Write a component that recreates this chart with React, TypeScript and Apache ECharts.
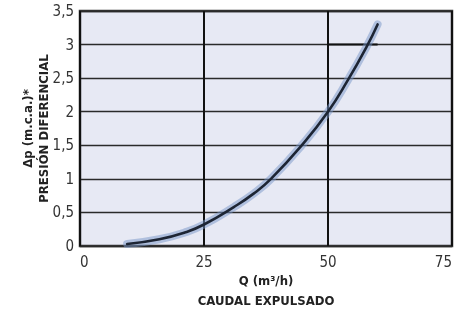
import React, { useEffect, useRef } from "react";
import * as echarts from "echarts";

const flowValues = [9.5, 16, 21.5, 25, 31, 35, 38.5, 44.7, 50, 54, 57.8, 60];
const pressureValues = [0.03, 0.1, 0.21, 0.32, 0.58, 0.78, 1.0, 1.5, 2.0, 2.47, 2.97, 3.3];
const markerFlow = [50, 60];
const markerPressure = [3, 3];
const xTicks = [0, 25, 50, 75];
const yTicks = [0, 0.5, 1, 1.5, 2, 2.5, 3, 3.5];
const xTitle = "Q (m³/h)\nCAUDAL EXPULSADO";
const yTitle = "Δp (m.c.a.)*\nPRESIÓN DIFERENCIAL";

const FONT = "'DejaVu Sans Condensed', 'Liberation Sans Narrow', sans-serif";

export default function App() {
  const ref = useRef<HTMLDivElement>(null);
  useEffect(() => {
    if (!ref.current) return;
    const chart = echarts.init(ref.current, undefined, { renderer: "svg" });
    const curve = flowValues.map((x, i) => [x, pressureValues[i]]);
    const marker = markerFlow.map((x, i) => [x, markerPressure[i]]);
    chart.setOption({
      animation: false,
      grid: {
        left: 80,
        right: 2,
        top: 11,
        bottom: 69,
        show: true,
        backgroundColor: "#e7e9f4",
        borderColor: "#333",
        borderWidth: 2.5,
      },
      xAxis: {
        type: "value",
        min: xTicks[0],
        max: xTicks[xTicks.length - 1],
        interval: 25,
        name: xTitle,
        nameLocation: "middle",
        nameGap: 24,
        nameMoveOverlap: false,
        nameTextStyle: { fontFamily: FONT, fontWeight: "bold", fontSize: 13, color: "#222", lineHeight: 20 },
        axisLine: { show: false },
        axisTick: { show: false },
        axisLabel: { fontFamily: FONT, fontSize: 15, color: "#333", margin: 8, alignMinLabel: "left", alignMaxLabel: "right" },
        splitLine: { show: true, lineStyle: { color: "#111", width: 2 } },
      },
      yAxis: {
        type: "value",
        min: yTicks[0],
        max: yTicks[yTicks.length - 1],
        interval: 0.5,
        name: yTitle,
        nameLocation: "middle",
        nameRotate: 90,
        nameGap: 29,
        nameMoveOverlap: false,
        nameTextStyle: { fontFamily: FONT, fontWeight: "bold", fontSize: 13, color: "#222", lineHeight: 16 },
        axisLine: { show: false },
        axisTick: { show: false },
        axisLabel: {
          fontFamily: FONT,
          fontSize: 15,
          color: "#333",
          margin: 6,
          formatter: (v: number) => String(v).replace(".", ","),
        },
        splitLine: { show: true, lineStyle: { color: "#2a2a2a", width: 1.3 } },
      },
      series: [
        {
          type: "line",
          data: marker,
          symbol: "none",
          lineStyle: { color: "#111", width: 2 },
          silent: true,
        },
        {
          type: "line",
          data: curve,
          smooth: true,
          symbol: "none",
          lineStyle: { color: "rgba(120,150,200,0.5)", width: 8, cap: "round" },
          silent: true,
        },
        {
          type: "line",
          data: curve,
          smooth: true,
          symbol: "none",
          lineStyle: { color: "#1d2534", width: 2.6, cap: "round" },
          silent: true,
        },
      ],
    });
    return () => chart.dispose();
  }, []);
  return <div ref={ref} style={{ position: "fixed", left: 0, top: 0, width: 455, height: 315 }} />;
}
